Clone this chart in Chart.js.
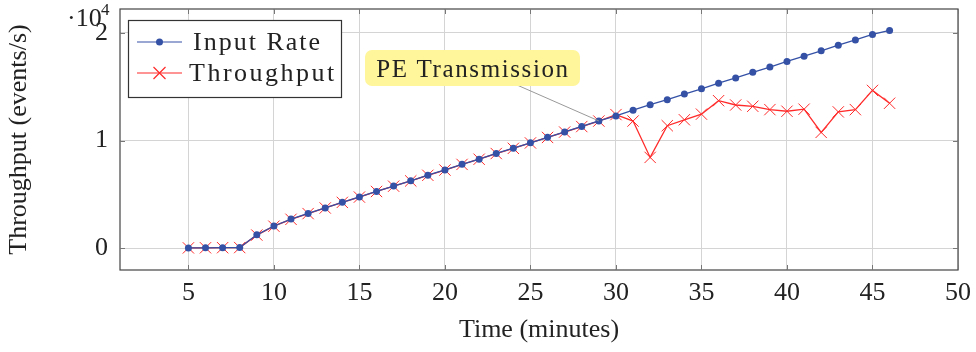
<!DOCTYPE html>
<html>
<head>
<meta charset="utf-8">
<script src="https://cdn.jsdelivr.net/npm/chart.js@4.4.1/dist/chart.umd.min.js"></script>
<style>
  html, body { margin: 0; padding: 0; background: #fff; }
  #wrap { width: 976px; height: 352px; }
</style>
</head>
<body>
<div id="wrap"><canvas id="myChart" width="976" height="352"></canvas></div>
<script>
// minutes
const minutes = [5, 6, 7, 8, 9, 10, 11, 12, 13, 14, 15, 16, 17, 18, 19, 20, 21, 22, 23, 24, 25,
    26, 27, 28, 29, 30, 31, 32, 33, 34, 35, 36, 37, 38, 39, 40, 41, 42, 43, 44, 45, 46];

// events/s
const inputRate = [50, 60, 70, 80, 1260, 2080, 2720, 3240, 3760, 4280, 4770, 5290, 5780, 6270, 6790,
    7280, 7800, 8280, 8810, 9290, 9790, 10300, 10800, 11310, 11820, 12290, 12820, 13330, 13790,
    14310, 14800, 15320, 15810, 16330, 16820, 17340, 17830, 18320, 18840, 19330, 19840, 20210];

const throughput = [50, 60, 70, 80, 1240, 2060, 2700, 3230, 3750, 4270, 4760, 5280, 5770, 6260, 6780,
    7270, 7790, 8270, 8800, 9280, 9780, 10290, 10790, 11300, 11810, 12410, 11810, 8440, 11380,
    11930, 12450, 13700, 13300, 13180, 12870, 12720, 12910, 10760, 12660, 12870, 14650, 13460];

const xTicks = [5, 10, 15, 20, 25, 30, 35, 40, 45, 50];
const yTicks = [0, 10000, 20000];

const serif = "'Liberation Serif', 'DejaVu Serif', serif";
const blue = "#3451a6";
const red = "#ff2a2a";

function toPoints(ys) {
    return minutes.map(function (m, i) { return { x: m, y: ys[i] }; });
}

// frame, legend, 10^4 label and the callout
const extras = {
    id: "extras",
    afterDatasetsDraw: function (chart) {
        const ctx = chart.ctx;
        const a = chart.chartArea;
        ctx.save();

        // axis box
        ctx.strokeStyle = "#444";
        ctx.lineWidth = 1.2;
        ctx.strokeRect(a.left, a.top, a.right - a.left, a.bottom - a.top);

        // small inner tick marks
        ctx.strokeStyle = "#777";
        ctx.lineWidth = 1;
        const xs = chart.scales.x, ys = chart.scales.y;
        xTicks.forEach(function (t) {
            const px = Math.round(xs.getPixelForValue(t)) + 0.5;
            ctx.beginPath();
            ctx.moveTo(px, a.bottom); ctx.lineTo(px, a.bottom - 5);
            ctx.moveTo(px, a.top); ctx.lineTo(px, a.top + 5);
            ctx.stroke();
        });
        yTicks.forEach(function (t) {
            const py = Math.round(ys.getPixelForValue(t)) + 0.5;
            ctx.beginPath();
            ctx.moveTo(a.left, py); ctx.lineTo(a.left + 5, py);
            ctx.moveTo(a.right, py); ctx.lineTo(a.right - 5, py);
            ctx.stroke();
        });

        // multiplier
        ctx.fillStyle = "#222";
        ctx.font = "26px " + serif;
        ctx.textBaseline = "alphabetic";
        ctx.textAlign = "left";
        ctx.fillText("\u00b710", 67, 26);
        ctx.font = "17px " + serif;
        ctx.fillText("4", 101, 15);

        // callout line to the point at 29 min
        const px = xs.getPixelForValue(29), py = ys.getPixelForValue(inputRate[24]);
        ctx.strokeStyle = "#999";
        ctx.lineWidth = 1;
        ctx.beginPath();
        ctx.moveTo(517, 85);
        ctx.lineTo(px, py);
        ctx.stroke();

        // callout box
        ctx.fillStyle = "#fff59a";
        ctx.beginPath();
        ctx.roundRect(365, 50, 215, 36, 7);
        ctx.fill();
        ctx.fillStyle = "#222";
        ctx.font = "25px " + serif;
        ctx.letterSpacing = "1.6px";
        ctx.textAlign = "center";
        ctx.fillText("PE Transmission", 473, 77);

        // legend
        ctx.fillStyle = "#fff";
        ctx.fillRect(128, 20, 213, 77);
        ctx.strokeStyle = "#333";
        ctx.lineWidth = 1.2;
        ctx.strokeRect(128.5, 20.5, 213, 77);

        ctx.lineWidth = 1.2;
        ctx.strokeStyle = blue;
        ctx.beginPath(); ctx.moveTo(137, 42); ctx.lineTo(182, 42); ctx.stroke();
        ctx.fillStyle = blue;
        ctx.beginPath(); ctx.arc(159.5, 42, 3.5, 0, Math.PI * 2); ctx.fill();

        ctx.strokeStyle = red;
        ctx.beginPath(); ctx.moveTo(137, 73); ctx.lineTo(182, 73); ctx.stroke();
        ctx.beginPath();
        ctx.moveTo(153.5, 67); ctx.lineTo(165.5, 79);
        ctx.moveTo(165.5, 67); ctx.lineTo(153.5, 79);
        ctx.stroke();

        ctx.fillStyle = "#222";
        ctx.textAlign = "left";
        ctx.font = "26px " + serif;
        ctx.letterSpacing = "2px";
        ctx.fillText("Input Rate", 193, 50);
        ctx.letterSpacing = "2.5px";
        ctx.fillText("Throughput", 189, 81);

        ctx.restore();
    }
};

new Chart(document.getElementById("myChart"), {
    type: "line",
    data: {
        datasets: [{
            label: "Input Rate",
            data: toPoints(inputRate),
            borderColor: blue,
            backgroundColor: blue,
            borderWidth: 1.3,
            pointStyle: "circle",
            pointRadius: 3.5,
            pointBorderWidth: 0,
            tension: 0
        }, {
            label: "Throughput",
            data: toPoints(throughput),
            borderColor: red,
            backgroundColor: red,
            borderWidth: 1.3,
            pointStyle: "crossRot",
            pointRadius: 8,
            pointBorderWidth: 1,
            tension: 0
        }]
    },
    plugins: [extras],
    options: {
        responsive: false,
        animation: false,
        events: [],
        layout: { padding: { top: 5, right: 18, bottom: 0, left: 0 } },
        plugins: {
            legend: { display: false },
            tooltip: { enabled: false }
        },
        scales: {
            x: {
                type: "linear",
                min: 1,
                max: 50,
                afterBuildTicks: function (s) { s.ticks = xTicks.map(function (v) { return { value: v }; }); },
                afterFit: function (s) { s.height = 82; s.paddingLeft = 0; s.paddingRight = 0; },
                grid: { color: "#d4d4d4", lineWidth: 1, drawTicks: false },
                border: { display: false },
                ticks: {
                    color: "#222",
                    font: { family: serif, size: 26 },
                    padding: 8,
                    maxRotation: 0
                },
                title: {
                    display: true,
                    text: "Time (minutes)",
                    color: "#222",
                    font: { family: serif, size: 26 },
                    padding: { top: 4, bottom: 6 }
                }
            },
            y: {
                type: "linear",
                min: -2000,
                max: 22200,
                afterBuildTicks: function (s) { s.ticks = yTicks.map(function (v) { return { value: v }; }); },
                afterFit: function (s) { s.width = 120; s.paddingTop = 0; s.paddingBottom = 0; },
                grid: { color: "#d4d4d4", lineWidth: 1, drawTicks: false },
                border: { display: false },
                ticks: {
                    color: "#222",
                    font: { family: serif, size: 26 },
                    padding: 12,
                    callback: function (v) { return String(v / 10000); }
                },
                title: {
                    display: true,
                    text: "Throughput (events/s)",
                    color: "#222",
                    font: { family: serif, size: 26 },
                    padding: { top: 4, bottom: 20 }
                }
            }
        }
    }
});
</script>
</body>
</html>
